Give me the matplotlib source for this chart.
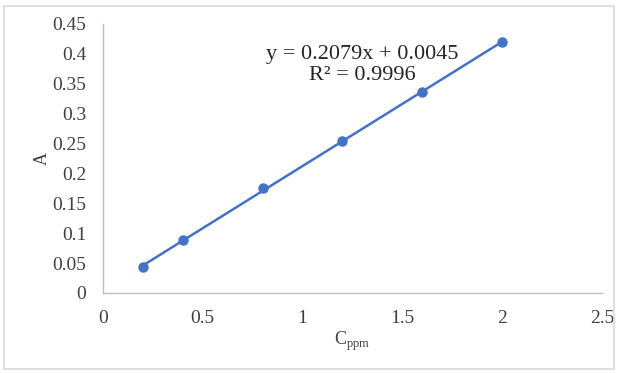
import matplotlib.pyplot as plt
import numpy as np
from matplotlib.patches import Rectangle

# calibration data
conc = [0.2, 0.4, 0.8, 1.2, 1.6, 2.0]
absorb = [0.043, 0.088, 0.175, 0.254, 0.337, 0.420]
slope = 0.2079
intercept = 0.0045
r2 = 0.9996
x_ticks = [0, 0.5, 1, 1.5, 2, 2.5]
y_ticks = [0, 0.05, 0.1, 0.15, 0.2, 0.25, 0.3, 0.35, 0.4, 0.45]
x_labels = ["0", "0.5", "1", "1.5", "2", "2.5"]
y_labels = ["0", "0.05", "0.1", "0.15", "0.2", "0.25", "0.3", "0.35", "0.4", "0.45"]

plt.rcParams['font.family'] = ['Liberation Serif', 'DejaVu Serif']
plt.rcParams['mathtext.fontset'] = 'custom'
plt.rcParams['mathtext.rm'] = 'Liberation Serif'
blue = "#4472C4"
grey_txt = "#404040"

fig = plt.figure(figsize=(6.18, 3.73), dpi=100)
fig.patches.append(Rectangle((0.006, 0.01), 0.988, 0.975, transform=fig.transFigure,
                             fill=False, edgecolor="#d9d9d9", linewidth=1.2))
ax = fig.add_axes([0.1667, 0.2145, 0.8073, 0.7212])

xs = np.array([min(conc), max(conc)])
ax.plot(xs, slope * xs + intercept, color=blue, linewidth=1.8, zorder=2)
ax.plot(conc, absorb, "o", color=blue, markersize=6.5, zorder=3)

ax.set_xlim(0, 2.5)
ax.set_ylim(0, 0.45)
ax.set_xticks(x_ticks)
ax.set_xticklabels(x_labels)
ax.set_yticks(y_ticks)
ax.set_yticklabels(y_labels)
ax.tick_params(length=0, labelsize=14, colors=grey_txt)
ax.tick_params(axis="y", pad=12)
ax.tick_params(axis="x", pad=12)

for s in ["top", "right"]:
    ax.spines[s].set_visible(False)
for s in ["left", "bottom"]:
    ax.spines[s].set_color("#bfbfbf")
    ax.spines[s].set_linewidth(1.0)

ax.set_xlabel(r"C$_{\mathrm{ppm}}$", fontsize=13, color=grey_txt, labelpad=2)
ax.set_ylabel("A", fontsize=13, color=grey_txt, labelpad=1)

ax.text(1.3, 0.382, f"y = {slope}x + {intercept}\nR² = {r2}", ha="center", va="center",
        fontsize=16, color="#262626", linespacing=1.15)

fig.savefig("out.png", dpi=100)
